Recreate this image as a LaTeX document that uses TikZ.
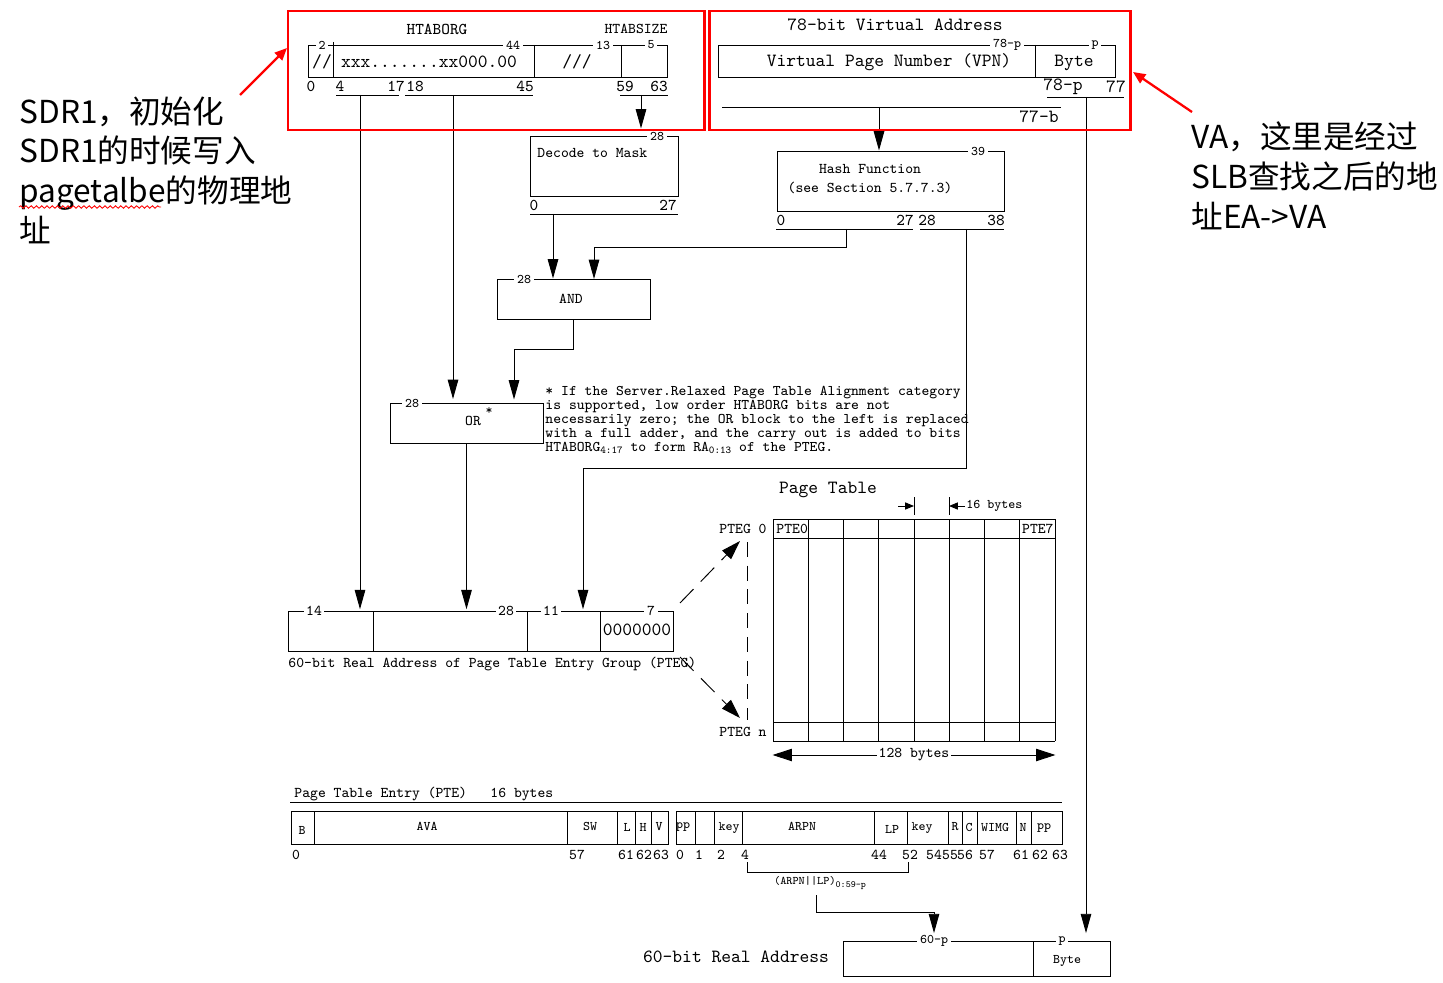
\documentclass[tikz,border=0pt]{standalone}
\usepackage{fontspec}
\newfontfamily\cjk{Noto Sans CJK SC}
\usetikzlibrary{arrows.meta,positioning,calc,fit,decorations.pathmorphing}
\definecolor{note}{HTML}{FF0000}

\tikzset{
  fld/.style={draw, inner sep=0pt},
  bigtxt/.style={font=\ttfamily\fontsize{10.6}{12}\selectfont, inner sep=0pt},
  bittxt/.style={font=\ttfamily\fontsize{9.4}{11}\selectfont, inner sep=0pt},
  midtxt/.style={font=\ttfamily\fontsize{8.5}{10}\selectfont, inner sep=0pt},
  smalltxt/.style={font=\ttfamily\fontsize{7.5}{9}\selectfont, inner sep=0pt},
  wd/.style={smalltxt, fill=white, inner xsep=1.5pt, inner ysep=0.5pt},
  wdm/.style={midtxt, fill=white, inner xsep=1.5pt, inner ysep=0.5pt},
  flow/.style={-{Triangle[width=6pt,length=11pt]}},
  redbox/.style={draw=note, line width=1.7pt},
  redarrow/.style={draw=note, line width=1.3pt, -{Triangle[width=6pt,length=7pt]}},
  cjktxt/.style={font=\cjk\fontsize{18}{22.7}\selectfont, inner sep=0pt, align=left}
}

\begin{document}
\begin{tikzpicture}[x=0.02cm, y=-0.02cm, line width=0.55pt]
\useasboundingbox (0,0) rectangle (1443,983);

% SDR1 register
\node[bittxt] at (437,29) {HTABORG};
\node[midtxt] at (636,29) {HTABSIZE};
\draw (308,45) rectangle (667,77);
\draw (333,42) -- (333,77) (534,45) -- (534,77) (621,45) -- (621,77);
\node[wd] at (322,45) {2};
\node[wd] at (513,45) {44};
\node[wd] at (603,45) {13};
\node[wd] at (651,45) {5};
\node[bigtxt] at (322,62) {//};
\node[bigtxt] at (429,62) {xxx.......xx000.00};
\node[bigtxt] at (577,62) {///};
\foreach \x/\t in {311/0,340/4,396/17,415/18,525/45,625/59,659/63}
  \node[bittxt] at (\x,86) {\t};
\draw (336,95) -- (399,95) (405,95) -- (533,95) (620,95) -- (668,95);
\coordinate (orgLo) at (360,95);
\coordinate (orgHi) at (453,95);
\coordinate (sizeB) at (641,95);

% virtual address
\node[bigtxt] at (895,25) {78-bit Virtual Address};
\draw (718,45) rectangle (1115,77);
\draw (1035,45) -- (1035,77);
\node[wd] at (1007,45) {78-p};
\node[wd] at (1095,45) {p};
\node[bigtxt] at (889,62) {Virtual Page Number (VPN)};
\node[bigtxt] at (1074,63) {Byte};
\node[bigtxt] at (1063,87) {78-p};
\node[bigtxt] at (1116,87) {77};
\draw (1047,97) -- (1124,97);
\draw (722,107) -- (1061,107);
\node[bigtxt] at (1039,117) {77-b};
\coordinate (vpnB) at (879,107);
\coordinate (byteB) at (1086,97);

% decode to mask
\node[fld, fit={(530,136) (678,196)}] (dec) {};
\node[wd] at (657,136) {28};
\node[midtxt, anchor=west] at (537,153) {Decode to Mask};
\foreach \x/\t in {534/0,668/27}
  \node[bittxt] at (\x,205) {\t};
\draw (530,214) -- (678,214);
\coordinate (decB) at (553,214);
\draw[flow, shorten >=4pt] (sizeB) -- (sizeB |- dec.north);

% hash function
\node[fld, fit={(777,151) (1004,211)}] (hash) {};
\node[wd] at (978,151) {39};
\node[midtxt, align=center, font=\ttfamily\fontsize{8.5}{10.5}\selectfont] at (870,179) {Hash Function\\(see Section 5.7.7.3)};
\foreach \x/\t in {781/0,905/27,927/28,996/38}
  \node[bittxt] at (\x,220) {\t};
\draw (776,229) -- (913,229) (920,229) -- (1004,229);
\coordinate (hashLo) at (846,229);
\coordinate (hashHi) at (966,229);
\draw[flow] (vpnB) -- (vpnB |- hash.north);

% AND
\node[fld, fit={(497,279) (650,319)}] (and) {};
\node[wd] at (524,279) {28};
\node[midtxt] at (571,299) {AND};
\coordinate (andR) at (594,279);
\draw[flow] (decB) -- (decB |- and.north);
\draw[flow] (hashLo) -- ++(0,18) -| (andR);

% OR
\node[fld, fit={(390,403) (543,443)}] (or) {};
\node[wd] at (412,403) {28};
\node[midtxt] at (473,421) {OR};
\node[smalltxt] at (489,411) {*};
\coordinate (orR) at (514,403);
\draw[flow, shorten >=2pt] (orgHi) -- (orgHi |- or.north);
\draw[flow, shorten >=2pt] (and.south) -- ++(0,30) -| (orR);

\node[anchor=north west, align=left, inner sep=0pt, font=\ttfamily\fontsize{8.4}{7.9}\selectfont] (fn) at (545,386)
  {* If the Server.Relaxed Page Table Alignment category\\
   is supported, low order HTABORG bits are not\\
   necessarily zero; the OR block to the left is replaced\\
   with a full adder, and the carry out is added to bits\\
   HTABORG\raisebox{-1.5pt}{\fontsize{6}{5}\selectfont 4:17} to form RA\raisebox{-1.5pt}{\fontsize{6}{5}\selectfont 0:13} of the PTEG.};

% PTEG real address
\draw (288,611) rectangle (673,651);
\draw (373,611) -- (373,651) (527,611) -- (527,651) (600,611) -- (600,651);
\node[wdm] at (314,611) {14};
\node[wdm] at (506,611) {28};
\node[wdm] at (551,611) {11};
\node[wdm] at (651,611) {7};
\node[bigtxt] at (637,630) {0000000};
\node[midtxt, anchor=west] at (288,664) {60-bit Real Address of Page Table Entry Group (PTEG)};
\coordinate (ptegTop) at (288,611);
\coordinate (ptegC) at (583,611);
\draw[flow, shorten >=1pt] (orgLo) -- (orgLo |- ptegTop);
\draw[flow, shorten >=1pt] (or.south) -- (or.south |- ptegTop);
\draw[flow, shorten >=1pt] (hashHi) -- ++(0,239) -| (ptegC);

% page table
\node[bigtxt] at (828,490) {Page Table};
\node[fit={(773,519) (1055,741)}, inner sep=0pt] (ptab) {};
\foreach \i in {0,...,8}
  \draw ({773+\i*35.25},519) -- ({773+\i*35.25},741);
\foreach \y in {519,538,722,741}
  \draw (773,\y) -- (1055,\y);
\node[midtxt, anchor=west] at (776,529) {PTE0};
\node[midtxt, anchor=east] at (1054,529) {PTE7};
\node[midtxt, anchor=east] (p0) at (767,529) {PTEG 0};
\node[midtxt, anchor=east] (pn) at (767,732) {PTEG n};
\draw (914,497) -- (914,515) (949,497) -- (949,515);
\draw[-{Triangle[width=4pt,length=5pt]}] (898,506) -- (914,506);
\draw[-{Triangle[width=4pt,length=5pt]}] (965,506) -- (949,506);
\node[smalltxt, anchor=west] at (966,506) {16 bytes};
\draw[{Triangle[width=7pt,length=11pt]}-{Triangle[width=7pt,length=11pt]}]
  (ptab.south west |- 0,755) -- (ptab.south east |- 0,755)
  node[midway, fill=white, midtxt, inner xsep=1pt] {128 bytes};
\coordinate (dashA) at (680,603);
\coordinate (dashB) at (680,657);
\draw[dash pattern=on 11pt off 6pt, -{Triangle[width=7pt,length=11pt]}] (dashA) -- (740,541);
\draw[dash pattern=on 11pt off 6pt, -{Triangle[width=7pt,length=11pt]}] (dashB) -- (740,718);
\draw[dash pattern=on 8.5pt off 5pt] (747,542) -- (747,720);

% page table entry
\node[midtxt, anchor=west] at (294,794) {Page Table Entry (PTE)~~~16 bytes};
\draw (290,802) -- (1062,802);
\draw (291,811) rectangle (668,844);
\foreach \x in {314,567,617,635,651}
  \draw (\x,811) -- (\x,844);
\draw (676,811) rectangle (1062,844);
\foreach \x in {695,714,742,874,907,948,962,977,1016,1031}
  \draw (\x,811) -- (\x,844);
\foreach \x/\y/\t in {302/830/B,427/826/AVA,590/826/SW,627/827/L,643/827/H,659/827/V,
    683/827/pp,704/827//,729/828/key,802/826/ARPN,892/829/LP,922/828/key,955/827/R,
    969/827/C,995/827/WIMG,1023/827/N,1044/828/pp}
  \node[smalltxt] at (\x,\y) {\t};
\foreach \x/\t in {296/0,577/57,626/61,644/62,661/63,680/0,699/1,721/2,745/4,879/44,
    910/52,934/54,950/55,965/56,987/57,1021/61,1040/62,1060/63}
  \node[midtxt] at (\x,855) {\t};
\draw (747,862) -- (747,872) -- (908,872) -- (908,862);
\node[inner sep=0pt, font=\ttfamily\fontsize{6.6}{7}\selectfont] at (820,883)
  {(ARPN||LP)\raisebox{-1.5pt}{\fontsize{5.4}{5}\selectfont 0:59-p}};
\coordinate (rpnB) at (816,895);

% final real address
\draw (843,941) rectangle (1110,976);
\draw (1033,941) -- (1033,976);
\node[wd] at (934,941) {60-p};
\node[wd] at (1062,941) {p};
\node[smalltxt] at (1067,961) {Byte};
\node[bigtxt] at (736,957) {60-bit Real Address};
\coordinate (realL) at (934,941);
\coordinate (realR) at (1086,941);
\draw[flow, shorten >=4.5pt] (rpnB) -- ++(0,17) -| (realL);
\draw[flow, shorten >=4.5pt] (byteB) -- (realR);

% annotations
\draw[redbox] (288,11) rectangle (704,130);
\draw[redbox] (709,11) rectangle (1130,130);
\node[cjktxt, anchor=north west] (sdrnote) at (19,96)
  {SDR1，初始化\\SDR1的时候写入\\pagetalbe的物理地\\址};
\node[cjktxt, anchor=north west] (vanote) at (1191,121)
  {VA，这里是经过\\SLB查找之后的地\\址EA->VA};
\draw[note, line width=0.5pt, decorate, decoration={snake, amplitude=0.7pt, segment length=3pt}]
  (19,207) -- (161,207);
\coordinate (sdrTip) at (287,48);
\coordinate (vaTip) at (1133,72);
\draw[redarrow] (240,95) -- (sdrTip);
\draw[redarrow] (1192,112) -- (vaTip);
\end{tikzpicture}
\end{document}
